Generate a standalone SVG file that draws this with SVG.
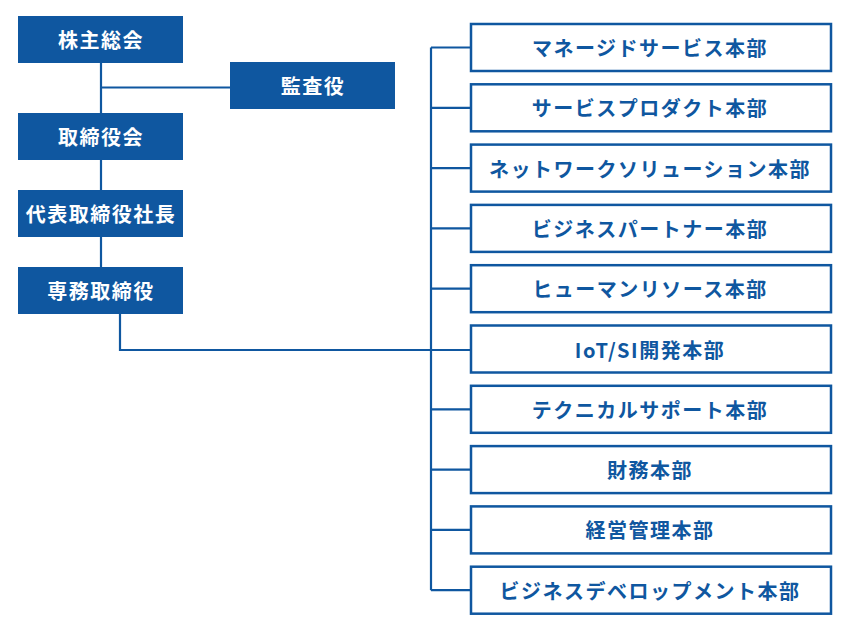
<svg xmlns="http://www.w3.org/2000/svg" width="850" height="630" viewBox="0 0 850 630">
<style>
.exec rect{fill:#0f57a0;}
.exec text{fill:#ffffff;}
.dept rect{fill:#ffffff;stroke:#0f57a0;stroke-width:2.5;}
.dept text{fill:#0f57a0;}
text{font-family:"Noto Sans CJK JP","Noto Sans",sans-serif;font-weight:bold;font-size:20px;text-anchor:middle;dominant-baseline:central;letter-spacing:1.5px;}
.conn{fill:none;stroke:#0f57a0;stroke-width:2.2;}
</style>
<rect width="850" height="630" fill="#ffffff"/>
<g id="connectors" class="conn">
<path d="M101 63V113M101 87.5H230M101 160V190M101 237V267"/>
<path d="M120 314V350H470"/>
<path d="M431 47.5V590.2"/>
<path d="M431 47.5H470M431 107.8H470M431 168.1H470M431 228.4H470M431 288.7H470M431 409.3H470M431 469.6H470M431 529.9H470M431 590.2H470"/>
</g>
<g id="n1" class="exec"><rect x="18" y="16" width="165" height="47"/><text x="101" y="39.5">株主総会</text></g>
<g id="n2" class="exec"><rect x="230" y="62" width="165" height="47"/><text x="313" y="85.5">監査役</text></g>
<g id="n3" class="exec"><rect x="18" y="113" width="165" height="47"/><text x="101" y="136.5">取締役会</text></g>
<g id="n4" class="exec"><rect x="18" y="190" width="165" height="47"/><text x="101" y="213.5">代表取締役社長</text></g>
<g id="n5" class="exec"><rect x="18" y="267" width="165" height="47"/><text x="101" y="290.5">専務取締役</text></g>
<g id="d1" class="dept"><rect x="471" y="24" width="360" height="47"/><text x="650" y="47.5">マネージドサービス本部</text></g>
<g id="d2" class="dept"><rect x="471" y="84.3" width="360" height="47"/><text x="650" y="107.8">サービスプロダクト本部</text></g>
<g id="d3" class="dept"><rect x="471" y="144.6" width="360" height="47"/><text x="650" y="168.1">ネットワークソリューション本部</text></g>
<g id="d4" class="dept"><rect x="471" y="204.9" width="360" height="47"/><text x="650" y="228.4">ビジネスパートナー本部</text></g>
<g id="d5" class="dept"><rect x="471" y="265.2" width="360" height="47"/><text x="650" y="288.7">ヒューマンリソース本部</text></g>
<g id="d6" class="dept"><rect x="471" y="325.5" width="360" height="47"/><text x="650" y="349">IoT/SI開発本部</text></g>
<g id="d7" class="dept"><rect x="471" y="385.8" width="360" height="47"/><text x="650" y="409.3">テクニカルサポート本部</text></g>
<g id="d8" class="dept"><rect x="471" y="446.1" width="360" height="47"/><text x="650" y="469.6">財務本部</text></g>
<g id="d9" class="dept"><rect x="471" y="506.4" width="360" height="47"/><text x="650" y="529.9">経営管理本部</text></g>
<g id="d10" class="dept"><rect x="471" y="566.7" width="360" height="47"/><text x="650" y="590.2">ビジネスデベロップメント本部</text></g>
</svg>
